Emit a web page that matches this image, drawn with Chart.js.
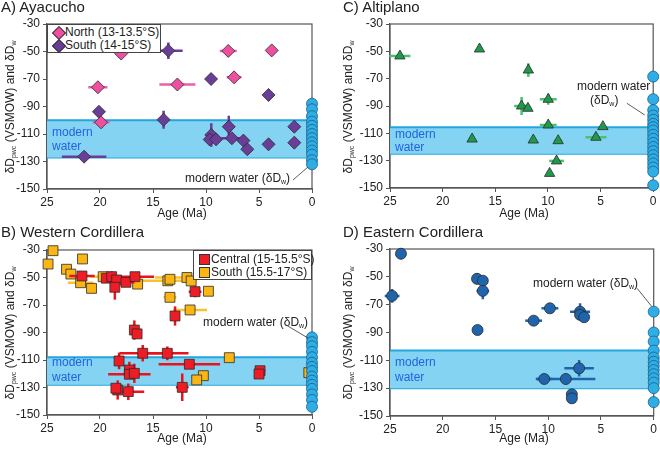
<!DOCTYPE html>
<html>
<head>
<meta charset="utf-8">
<script src="https://cdn.jsdelivr.net/npm/chart.js@4.4.1/dist/chart.umd.min.js"></script>
<style>
body{margin:0;background:#fff;font-family:'Liberation Sans',Arial,sans-serif;color:#222}
#wrap{position:relative;width:660px;height:450px;overflow:hidden}
canvas{position:absolute}
.t{position:absolute;white-space:nowrap;font-size:12px;line-height:14px}
.ttl{font-size:15px;line-height:17px}
.ytl{transform:translate(-50%,-50%) rotate(-90deg)}
.ytl sub,.ann sub{font-size:7px;vertical-align:-2px}
.xtl{transform:translateX(-50%)}
.mw{color:#2462e0}
.leg{position:absolute;background:#fff;border:1px solid #444;box-sizing:border-box}
.leg div{position:absolute;font-size:12px;line-height:14px;white-space:nowrap}
.dia{position:absolute;width:8px;height:8px;border:1px solid #333;transform:rotate(45deg)}
.sq{position:absolute;width:9px;height:9px;border:1px solid #333}
</style>
</head>
<body>
<div id="wrap">
<canvas id="chartA" width="330" height="225" style="left:0;top:0"></canvas>
<canvas id="chartB" width="330" height="225" style="left:0;top:225px"></canvas>
<canvas id="chartC" width="330" height="225" style="left:330px;top:0"></canvas>
<canvas id="chartD" width="330" height="225" style="left:330px;top:225px"></canvas>

<div class="t ttl" style="left:1px;top:-2px">A) Ayacucho</div>
<div class="t ttl" style="left:1px;top:223px">B) Western Cordillera</div>
<div class="t ttl" style="left:343px;top:-2px">C) Altiplano</div>
<div class="t ttl" style="left:343px;top:223px">D) Eastern Cordillera</div>

<div class="t ytl" style="left:12px;top:107px">δD<sub>pwc</sub> (VSMOW) and δD<sub>w</sub></div>
<div class="t ytl" style="left:12px;top:333px">δD<sub>pwc</sub> (VSMOW) and δD<sub>w</sub></div>
<div class="t ytl" style="left:350px;top:107px">δD<sub>pwc</sub> (VSMOW) and δD<sub>w</sub></div>
<div class="t ytl" style="left:350px;top:333px">δD<sub>pwc</sub> (VSMOW) and δD<sub>w</sub></div>

<div class="t xtl" style="left:182px;top:206px">Age (Ma)</div>
<div class="t xtl" style="left:182px;top:431px">Age (Ma)</div>
<div class="t xtl" style="left:524px;top:206px">Age (Ma)</div>
<div class="t xtl" style="left:524px;top:431px">Age (Ma)</div>

<div class="t mw" style="left:52px;top:125px">modern<br>water</div>
<div class="t mw" style="left:52px;top:355px;line-height:15px">modern<br>water</div>
<div class="t mw" style="left:395px;top:128px;line-height:13px">modern<br>water</div>
<div class="t mw" style="left:395px;top:355px;line-height:15px">modern<br>water</div>

<div class="t ann" style="left:185px;top:171px">modern water (δD<sub>w</sub>)</div>
<div class="t ann" style="left:203px;top:315px">modern water (δD<sub>w</sub>)</div>
<div class="t ann" style="left:577px;top:79px">modern water</div>
<div class="t ann" style="left:590px;top:93px">(δD<sub>w</sub>)</div>
<div class="t ann" style="left:533px;top:276px">modern water (δD<sub>w</sub>)</div>

<div class="leg" style="left:47px;top:24px;width:114px;height:29px">
  <span class="dia" style="left:6px;top:3px;background:#ee4f9f"></span><div style="left:17px;top:0px">North (13-13.5°S)</div>
  <span class="dia" style="left:6px;top:16px;background:#6a3d98"></span><div style="left:17px;top:13px">South (14-15°S)</div>
</div>
<div class="leg" style="left:193px;top:250px;width:119px;height:30px">
  <span class="sq" style="left:5px;top:3px;background:#ee1c24"></span><div style="left:17px;top:1px">Central (15-15.5°S)</div>
  <span class="sq" style="left:5px;top:16px;background:#fbb614"></span><div style="left:17px;top:14px">South (15.5-17°S)</div>
</div>
</div>

<script>
// A) Ayacucho
const ayaNorthAge = [18.0, 20.2, 19.9, 12.7, 7.9, 7.35, 3.8]
const ayaNorthD = [-51.5, -76, -101.5, -74, -49.6, -68.8, -49.2]
const ayaNorthXerr = [0.3, 0.9, 0.8, 1.7, 0.8, 0.7, 0]
const ayaNorthYerr = [0, 0, 0, 0, 0, 2, 0]

const ayaSouthAge = [13.55, 20.1, 21.5, 14.0, 9.52, 4.1, 9.5, 9.65, 9.05, 7.85, 7.56, 6.47, 6.1, 4.1, 1.67, 1.67]
const ayaSouthD = [-49.4, -93.8, -126.5, -99.6, -70, -81.6, -110.7, -114, -113.9, -104.7, -113.1, -114.8, -121.1, -117.5, -104.7, -116.3]
const ayaSouthXerr = [1.35, 0, 2.1, 0.5, 0, 0, 0.2, 0, 0.4, 0, 1.0, 0.3, 0, 0, 0, 0]
const ayaSouthYerr = [6, 2, 0, 6.5, 0, 4, 8.5, 0, 0, 8, 0, 3, 0, 0, 0, 0]

const ayaModern = [-88, -92, -97, -101, -104, -107, -110, -113, -116, -119, -122, -125, -129, -132]
const ayaBand = [-100, -127]
const ayaLeader = [[1.8, -143.5], [0.38, -134]]

// B) Western Cordillera
const wcCentralAge = [21.7, 19.4, 18.9, 18.43, 18.6, 17.55, 16.7, 11.03, 12.92, 16.76, 16.5, 15.97, 13.65, 11.57, 18.2, 17.23, 17.23, 16.76, 18.33, 18.5, 17.33, 12.24, 4.9, 5.0]
const wcCentralD = [-48.9, -50.5, -49.4, -51.8, -57.1, -53.5, -49.4, -60.3, -78, -88.2, -91, -105.1, -105.1, -113.1, -110.7, -117.3, -120.4, -119.7, -131.8, -130.5, -133, -129.9, -117.8, -120.2]
const wcCentralXerr = [1.2, 0, 0, 0, 0, 0.8, 1.8, 0.6, 0, 0, 0, 2.2, 2.0, 2.9, 0, 0, 2.0, 0, 0, 0, 1.5, 0.6, 0.5, 0]
const wcCentralYerr = [0, 0, 4, 0, 9, 0, 0, 4, 7, 7, 0, 6, 5, 0, 6, 6, 0, 7, 7, 0, 6, 10, 3, 0]

const wcSouthAge = [24.43, 24.9, 21.65, 23.16, 22.75, 21.83, 20.8, 19.7, 16.45, 13.6, 13.4, 13.4, 11.8, 11.4, 9.77, 11.5, 7.8, 10.25, 10.88, 0.3]
const wcSouthD = [-30.5, -40.2, -36.5, -44, -47.5, -53.8, -57.9, -49.4, -54.8, -52.4, -51.3, -64.4, -50, -52.5, -60, -73.6, -108.3, -121.4, -124.5, -119.2]
const wcSouthXerr = [0, 0, 0, 0, 0, 1.2, 0, 1.2, 0, 2.7, 0, 0.6, 3, 0, 0, 1.6, 0, 0, 0, 0]
const wcSouthYerr = [0, 0, 0, 0, 0, 0, 0, 0, 0, 0, 0, 3, 0, 0, 0, 0, 0, 0, 3, 0]

const wcModern = [-93.5, -97, -100, -104, -108, -112, -115, -118, -122, -125, -128, -131, -135, -139, -144]
const wcBand = [-108, -128]
const wcLeader = [[2.45, -84.5], [0.38, -94]]

// C) Altiplano
const altAge = [24.06, 16.5, 11.86, 12.5, 11.9, 9.97, 9.97, 17.2, 11.39, 9.03, 9.18, 9.84, 5.44, 4.78]
const altD = [-53.4, -48.3, -63.7, -90, -91.7, -85.1, -103.9, -114.2, -114.9, -115.4, -130.2, -139.3, -112.9, -105.1]
const altXerr = [1.0, 0, 0, 0.7, 0, 0.8, 0.8, 0, 0, 0.4, 0.7, 0, 1.0, 0]
const altYerr = [0, 0, 5, 6.5, 2, 4, 0, 0, 0, 2, 0, 0, 0, 0]

const altModern = [-68.5, -85, -93, -97, -100, -103, -105.5, -108, -111, -114, -117, -120, -123, -126, -129, -132, -135, -138, -148]
const altBand = [-105.5, -125]
const altLeader = [[2.5, -88], [0.8, -96.6]]

// D) Eastern Cordillera
const ecAge = [23.96, 24.8, 16.75, 16.2, 16.2, 16.7, 11.38, 9.84, 6.98, 6.98, 6.6, 7.07, 10.38, 8.33, 7.76, 7.76]
const ecD = [-33.4, -63.7, -51.4, -52.8, -60.1, -88.2, -81.5, -72.6, -75, -77.3, -79, -115.7, -123.4, -123.4, -134.4, -137.3]
const ecXerr = [0, 0.7, 0, 0, 0.6, 0, 0.8, 0.8, 0.95, 0, 0, 1.4, 0.8, 2.8, 0, 0]
const ecYerr = [4, 5, 4, 0, 6, 0, 0, 0, 6, 0, 0, 6, 0, 4, 0, 0]

const ecModern = [-75, -90, -96.5, -103, -108, -111, -114, -117, -120, -123, -126, -130, -140]
const ecBand = [-103, -130]
const ecLeader = [[1.58, -58.2], [0.22, -71]]

const xTicks = [25, 20, 15, 10, 5, 0]
const yTicks = [-30, -50, -70, -90, -110, -130, -150]

const FONT = "'Liberation Sans', Arial, sans-serif"
const LIGHTBLUE = '#2eaee5'
const BANDFILL = '#84d3f3'
const BANDEDGE = '#22a6de'

const pts = function (ages, vals) {
  return ages.map((a, i) => ({ x: a, y: vals[i] }))
}

const series = function (ages, vals, xerr, yerr, style, fill, errColor, radius) {
  return {
    data: pts(ages, vals),
    xerr: xerr, yerr: yerr, errColor: errColor,
    pointStyle: style, pointRadius: radius,
    backgroundColor: fill, borderColor: '#2b2b2b',
    pointBackgroundColor: fill, pointBorderColor: '#2b2b2b', pointBorderWidth: 0.8,
    clip: false, order: 1
  }
}

const modern = function (vals) {
  const ages = vals.map(() => 0)
  const s = series(ages, vals, null, null, 'circle', LIGHTBLUE, null, 5.5)
  s.pointBorderColor = '#1c5f8c'
  s.order = 0
  return s
}

const band = function (b) {
  return [
    { type: 'line', data: [{ x: 25, y: b[0] }, { x: 0, y: b[0] }], fill: '+1', backgroundColor: BANDFILL,
      borderColor: BANDEDGE, borderWidth: 2, pointRadius: 0, tension: 0, order: 9 },
    { type: 'line', data: [{ x: 25, y: b[1] }, { x: 0, y: b[1] }], fill: false,
      borderColor: BANDEDGE, borderWidth: 2, pointRadius: 0, tension: 0, order: 9 }
  ]
}

// error bars, drawn right before each dataset
const errorBars = {
  id: 'errorBars',
  beforeDatasetDraw(chart, args) {
    const ds = chart.data.datasets[args.index]
    if (!ds.errColor) return
    const ctx = chart.ctx
    const xs = chart.scales.x, ys = chart.scales.y
    ctx.save()
    ctx.strokeStyle = ds.errColor
    ctx.lineWidth = 2.5
    ds.data.forEach(function (p, i) {
      const px = xs.getPixelForValue(p.x), py = ys.getPixelForValue(p.y)
      const dx = ds.xerr ? ds.xerr[i] : 0
      const dy = ds.yerr ? ds.yerr[i] : 0
      ctx.beginPath()
      if (dx) {
        ctx.moveTo(xs.getPixelForValue(p.x + dx), py)
        ctx.lineTo(xs.getPixelForValue(p.x - dx), py)
      }
      if (dy) {
        ctx.moveTo(px, ys.getPixelForValue(p.y + dy))
        ctx.lineTo(px, ys.getPixelForValue(p.y - dy))
      }
      ctx.stroke()
    })
    ctx.restore()
  }
}

const frame = {
  id: 'frame',
  beforeDatasetsDraw(chart) {
    const a = chart.chartArea, ctx = chart.ctx
    ctx.save()
    ctx.strokeStyle = '#555'
    ctx.lineWidth = 1.2
    ctx.strokeRect(a.left, a.top, a.right - a.left, a.bottom - a.top)
    ctx.restore()
  }
}

const leader = function (line) {
  return {
    id: 'leader',
    afterDatasetsDraw(chart) {
      const ctx = chart.ctx, xs = chart.scales.x, ys = chart.scales.y
      ctx.save()
      ctx.strokeStyle = '#333'
      ctx.lineWidth = 0.8
      ctx.beginPath()
      ctx.moveTo(xs.getPixelForValue(line[0][0]), ys.getPixelForValue(line[0][1]))
      ctx.lineTo(xs.getPixelForValue(line[1][0]), ys.getPixelForValue(line[1][1]))
      ctx.stroke()
      ctx.restore()
    }
  }
}

const makeChart = function (id, sets, box, line) {
  return new Chart(document.getElementById(id), {
    type: 'scatter',
    data: { datasets: sets },
    options: {
      responsive: false,
      animation: false,
      layout: { padding: { top: box.top, right: box.right, left: 0, bottom: 0 } },
      plugins: { legend: { display: false }, tooltip: { enabled: false } },
      scales: {
        x: {
          type: 'linear', reverse: true, min: 0, max: 25,
          afterFit: function (s) { s.height = box.xh },
          afterBuildTicks: function (s) { s.ticks = xTicks.map(v => ({ value: v })) },
          ticks: { padding: 2, color: '#222', font: { size: 12, family: FONT } },
          grid: { drawOnChartArea: false, tickLength: 4, color: '#555' },
          border: { color: '#555', width: 1.2 }
        },
        y: {
          min: -150, max: -30,
          afterFit: function (s) { s.width = box.yw },
          afterBuildTicks: function (s) { s.ticks = yTicks.map(v => ({ value: v })) },
          ticks: { padding: 3, color: '#222', font: { size: 12, family: FONT } },
          grid: { drawOnChartArea: false, tickLength: 4, color: '#555' },
          border: { color: '#555', width: 1.2 }
        }
      }
    },
    plugins: [errorBars, frame, leader(line)]
  })
}

makeChart('chartA', [
  modern(ayaModern),
  series(ayaNorthAge, ayaNorthD, ayaNorthXerr, ayaNorthYerr, 'rectRot', '#ee4f9f', '#ec5fa8', 6.5),
  series(ayaSouthAge, ayaSouthD, ayaSouthXerr, ayaSouthYerr, 'rectRot', '#6a3d98', '#6a3d98', 6.5)
].concat(band(ayaBand)), { top: 24, right: 18, xh: 36, yw: 47 }, ayaLeader)

makeChart('chartB', [
  modern(wcModern),
  series(wcCentralAge, wcCentralD, wcCentralXerr, wcCentralYerr, 'rect', '#ee1c24', '#e8131b', 7),
  series(wcSouthAge, wcSouthD, wcSouthXerr, wcSouthYerr, 'rect', '#fbb614', '#f9c12e', 7)
].concat(band(wcBand)), { top: 25, right: 18, xh: 35, yw: 47 }, wcLeader)

makeChart('chartC', [
  modern(altModern),
  series(altAge, altD, altXerr, altYerr, 'triangle', '#1f9a4c', '#4cc070', 6)
].concat(band(altBand)), { top: 24, right: 5, xh: 37, yw: 60 }, altLeader)

makeChart('chartD', [
  modern(ecModern),
  series(ecAge, ecD, ecXerr, ecYerr, 'circle', '#1f65ad', '#1f65ad', 5.5)
].concat(band(ecBand)), { top: 24, right: 5, xh: 34, yw: 60 }, ecLeader)
</script>
</body>
</html>
